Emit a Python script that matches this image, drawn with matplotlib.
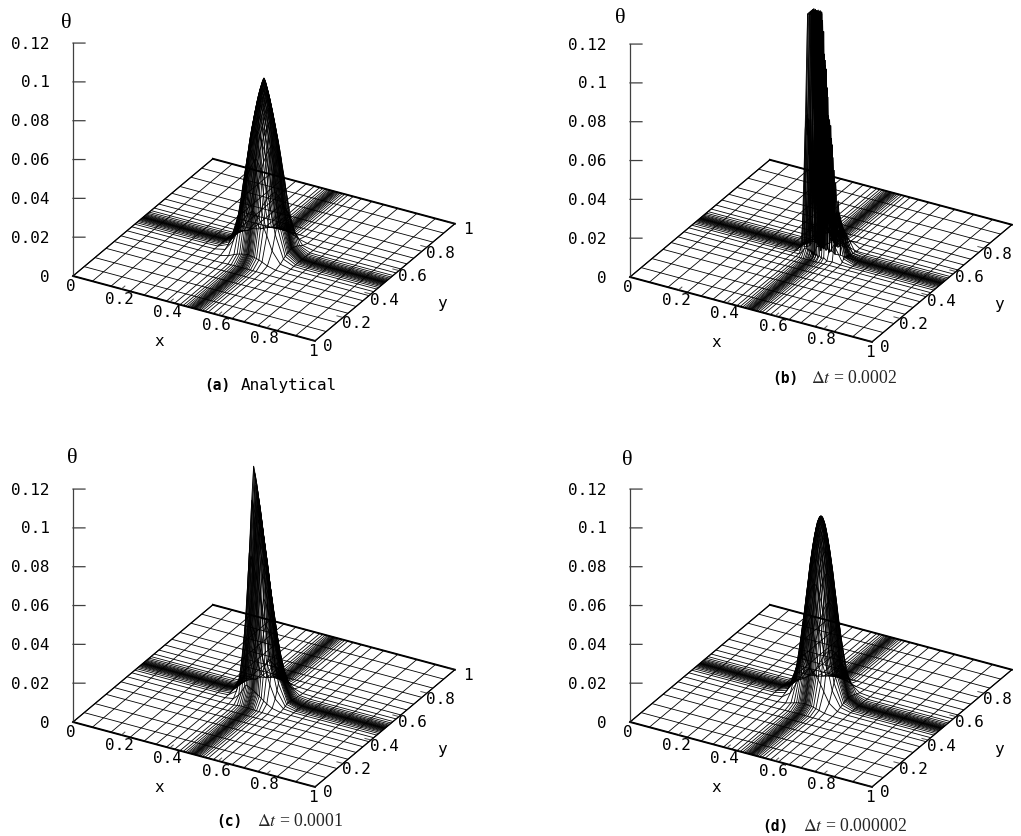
import numpy as np
import matplotlib
matplotlib.use("Agg")
import matplotlib.pyplot as plt
from mpl_toolkits.mplot3d import proj3d

plt.rcParams['mathtext.fontset'] = 'stix'

# mesh coordinates (same for x and y)
mesh = [0, .08, .157, .236, .294, .343, .386, .42, .442, .455, .465, .473, .479, .484, .488, .492, .495, .498, .5,
        .502, .505, .508, .512, .516, .521, .527, .535, .545, .558, .58, .614, .657, .706, .764, .843, .92, 1]

# one-dimensional shape of the pulse on that mesh, per panel
profile_a = [0, 0, 0, 0, .001, .004, .05, .28, .57, .72, .80, .86, .90, .93, .95, .97, .985, .995, 1,
             .995, .985, .97, .95, .93, .90, .86, .80, .72, .57, .28, .05, .004, .001, 0, 0, 0, 0]
profile_b = [0, 0, 0, 0, 0, 0, 0, 0, .02, .35, .9, 1.0, .85, 1.0, .7, .95, .55, .85, .02,
             .8, .4, .7, .35, .6, .25, .5, .2, .35, .05, .12, .01, 0, 0, 0, 0, 0, 0]
profile_c = [0, 0, 0, 0, 0, 0, .006, .08, .35, .62, .85, 1.0, .97, .94, .91, .88, .86, .84, .82,
             .80, .78, .75, .72, .69, .64, .58, .5, .39, .27, .11, .015, .001, 0, 0, 0, 0, 0]
profile_d = [0, 0, 0, 0, 0, .002, .03, .2, .48, .65, .78, .86, .91, .945, .97, .985, .995, 1, 1,
             1, .995, .985, .97, .945, .91, .86, .78, .65, .48, .2, .03, .002, 0, 0, 0, 0, 0]
peak_heights = [0.0885, 0.20, 0.119, 0.0925]
z_clip = 0.123
profiles = [profile_a, profile_b, profile_c, profile_d]

x_ticks = [0, 0.2, 0.4, 0.6, 0.8, 1]
x_tick_labels = ['0', '0.2', '0.4', '0.6', '0.8', '1']
y_ticks_full = [0, 0.2, 0.4, 0.6, 0.8, 1]
y_tick_labels_full = ['0', '0.2', '0.4', '0.6', '0.8', '1']
y_ticks_short = [0, 0.2, 0.4, 0.6, 0.8]
y_tick_labels_short = ['0', '0.2', '0.4', '0.6', '0.8']
z_ticks = [0, 0.02, 0.04, 0.06, 0.08, 0.1, 0.12]
z_tick_labels = ['0', '0.02', '0.04', '0.06', '0.08', '0.1', '0.12']
panel_tags = ['(a)', '(b)', '(c)', '(d)']
captions = ['Analytical', r'$\Delta t$ = 0.0002', r'$\Delta t$ = 0.0001', r'$\Delta t$ = 0.000002']

W, H = 1021, 837
origins_px = [(73, 277), (630, 278), (73, 723), (630, 723)]
theta_px = [(-7, 254), (-10, 260), (-1, 265), (-3, 263)]
tag_px = [(204, 386), (772, 379), (216, 822), (762, 827)]
cap_px = [(241, 386), (811, 379), (257, 822), (803, 827)]
MONO = 'DejaVu Sans Mono'
FS = 11.5

fig = plt.figure(figsize=(W / 100, H / 100), dpi=100, facecolor='white')


def fit(ax, origin):
    """Scale and move the square 3-D axes so the box corner lands on origin."""
    target = np.array([origin[0], H - origin[1]], dtype=float)
    S = 500.0
    L, B = target - 250.0
    M = ax.get_proj()
    u0, v0, _ = proj3d.proj_transform(0, 0, 0, M)
    u1, v1, _ = proj3d.proj_transform(1, 0, 0, M)
    for _ in range(3):
        ax.set_position([L / W, B / H, S / W, S / H])
        ax.apply_aspect()
        p0 = ax.transData.transform((u0, v0))
        p1 = ax.transData.transform((u1, v1))
        S *= 242.0 / (p1[0] - p0[0])
        ax.set_position([L / W, B / H, S / W, S / H])
        ax.apply_aspect()
        p0 = ax.transData.transform((u0, v0))
        L += target[0] - p0[0]
        B += target[1] - p0[1]
    ax.set_position([L / W, B / H, S / W, S / H])
    ax.apply_aspect()


def label(ax, x, y, z, s, **kw):
    u, v, _ = proj3d.proj_transform(x, y, z, ax.get_proj())
    ax.text2D(u, v, s, transform=ax.transData, clip_on=False, **kw)


for i in range(4):
    ax = fig.add_axes([0, 0, 1, 1], projection='3d', proj_type='ortho')
    ax.patch.set_alpha(0)
    ax.set_box_aspect((278, 284, 264.5))
    ax.view_init(elev=28.3, azim=-60.5)
    ax.set_xlim(0, 1)
    ax.set_ylim(0, 1)
    ax.set_zlim(0, 0.12)
    ax.set_axis_off()
    fit(ax, origins_px[i])

    X, Y = np.meshgrid(mesh, mesh)
    f = np.array(profiles[i])
    Z = np.minimum(peak_heights[i] * np.outer(f, f), z_clip)
    wf = ax.plot_wireframe(X, Y, Z, rstride=1, cstride=1, color='k', linewidth=0.6)
    wf.set_clip_on(False)

    # base border
    for xs, ys, lw in [([0, 1], [0, 0], 1.4), ([1, 1], [0, 1], 0.9),
                       ([1, 0], [1, 1], 1.4), ([0, 0], [1, 0], 0.9)]:
        ax.plot(xs, ys, [0, 0], color='k', lw=lw, clip_on=False)

    # z axis and ticks
    ax.plot([0, 0], [0, 0], [0, 0.12], color='0.25', lw=0.9, clip_on=False)
    for zt, zl in zip(z_ticks, z_tick_labels):
        if zt > 0:
            ax.plot([0, .0375], [0, .0208], [zt, zt], color='0.25', lw=0.9, clip_on=False)
        label(ax, -.072, -.04, zt, zl, family=MONO, fontsize=FS, ha='right', va='center')

    # x labels
    for xt, xl in zip(x_ticks, x_tick_labels):
        ax.plot([xt, xt], [0, .025], [0, 0], color='0.3', lw=0.7, clip_on=False)
        label(ax, xt + .03, -.068, 0, xl, family=MONO, fontsize=FS, ha='center', va='center')
    # y labels
    full = i in (0, 2)
    yt_vals = y_ticks_full if full else y_ticks_short
    yt_labs = y_tick_labels_full if full else y_tick_labels_short
    for yt, yl in zip(yt_vals, yt_labs):
        ax.plot([1, .975], [yt, yt], [0, 0], color='0.3', lw=0.7, clip_on=False)
        label(ax, 1.06, yt - .01, 0, yl, family=MONO, fontsize=FS, ha='center', va='center')

    label(ax, .508, -.265, 0, 'x', family=MONO, fontsize=FS, ha='center', va='center')
    label(ax, 1.255, .466, 0, 'y', family=MONO, fontsize=FS, ha='center', va='center')
    dx, up = theta_px[i]
    label(ax, dx / 319.8, dx / 319.8 * .5556, up / 233 * .12, 'θ', family='Liberation Serif',
          fontsize=16, ha='center', va='center')

    fig.text(tag_px[i][0] / W, 1 - tag_px[i][1] / H, panel_tags[i], family=MONO, fontsize=10.5,
             fontweight='bold', ha='left', va='center')
    if i == 0:
        fig.text(cap_px[i][0] / W, 1 - cap_px[i][1] / H, captions[i], family=MONO, fontsize=FS,
                 ha='left', va='center')
    else:
        fig.text(cap_px[i][0] / W, 1 - cap_px[i][1] / H, captions[i], family='Liberation Serif',
                 fontsize=12.8, ha='left', va='center', color='0.15')

fig.savefig('out.png', dpi=100, facecolor='white')
